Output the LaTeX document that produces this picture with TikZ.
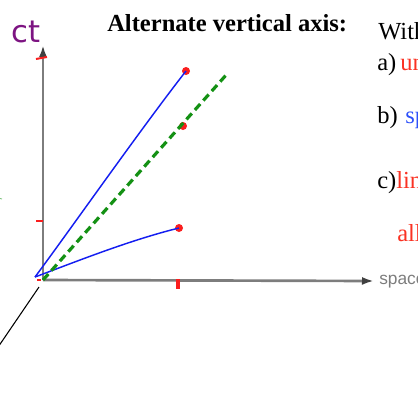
\documentclass[tikz,border=0pt]{standalone}
\usepackage{fontspec}
\setmainfont{Liberation Serif}
\setsansfont{Liberation Sans}
\newfontfamily\handfont{DejaVu Sans}
\usetikzlibrary{arrows.meta}

\definecolor{axisgray}{RGB}{125,125,125}
\definecolor{ctpurple}{RGB}{125,20,130}
\definecolor{eventred}{RGB}{250,30,30}
\definecolor{textred}{RGB}{250,50,35}
\definecolor{textblue}{RGB}{45,80,250}
\definecolor{rayblue}{RGB}{20,30,240}
\definecolor{raygreen}{RGB}{20,145,20}

\tikzset{
	axis/.style={draw=axisgray, line width=2pt, -{Latex[length=9pt,width=6pt,color=black!75]}},
	worldline/.style={draw=rayblue, line width=1.1pt},
	lightray/.style={draw=raygreen, line width=2.4pt, dash pattern=on 6pt off 3.5pt},
	event/.style={circle, fill=eventred, inner sep=0pt, minimum size=6pt},
	tickmark/.style={draw=eventred, line width=1.5pt},
	bodytext/.style={anchor=base west, inner sep=0pt, font=\fontsize{18.4}{22}\selectfont}
}

\begin{document}
\begin{tikzpicture}[x=0.75pt, y=-0.75pt]
	\useasboundingbox (0,0) rectangle (418,394);
	\clip (0,0) rectangle (418,394);

	% axes
	\coordinate (O) at (43,280);
	\coordinate (ctTip) at (43,45);
	\coordinate (xTip) at (374,281);
	\draw[axis] (O) -- (ctTip);
	\draw[axis] (O) -- (xTip);
	\node[anchor=base west, inner sep=0pt, text=axisgray, font=\sffamily\fontsize{13}{15}\selectfont] (spaceLabel) at (379,284) {space};
	\node[anchor=base west, inner sep=0pt, text=ctpurple, font=\handfont\fontsize{23}{26}\selectfont] (ctLabel) at (11,42) {ct};

	% ticks
	\coordinate (tickTopA) at (36,59);
	\coordinate (tickTopB) at (47,57);
	\coordinate (tickMidA) at (36,221);
	\coordinate (tickMidB) at (43,221);
	\coordinate (tickOA) at (37,280);
	\coordinate (tickOB) at (41,280);
	\coordinate (tickXA) at (178,279);
	\coordinate (tickXB) at (178,289);
	\draw[tickmark] (tickTopA) -- (tickTopB);
	\draw[tickmark] (tickMidA) -- (tickMidB);
	\draw[tickmark] (tickOA) -- (tickOB);
	\draw[tickmark, line width=2.6pt] (tickXA) -- (tickXB);

	% events
	\node[event] (eventA) at (186,71) {};
	\node[event] (eventB) at (183,126) {};
	\node[event] (eventC) at (179,228) {};

	% world lines and light ray
	\coordinate (start) at (35,277);
	\coordinate (lightEnd) at (227,74);
	\draw[worldline] (start) .. controls (70,230) and (140,130) .. (eventA.center);
	\draw[worldline] (start) .. controls (75,262) and (130,240) .. (eventC.center);
	\draw[lightray] (O) -- (lightEnd);

	% pointer line
	\coordinate (pointerA) at (39,287);
	\coordinate (pointerB) at (-8,356);
	\draw[black, line width=0.8pt] (pointerA) -- (pointerB);
	\coordinate (markA) at (0,198.5);
	\coordinate (markB) at (2,199);
	\draw[raygreen!60, line width=0.6pt] (markA) -- (markB);

	% texts
	\node[bodytext, font=\bfseries\fontsize{18.4}{22}\selectfont] (title) at (107,31.5) {Alternate vertical axis:};
	\node[bodytext] (with) at (378,39) {With};
	\node[bodytext] (itemA) at (377,70) {a)};
	\node[bodytext, text=textred] (itemAWord) at (400,70) {un};
	\node[bodytext] (itemB) at (377,123) {b)};
	\node[bodytext, text=textblue] (itemBWord) at (405,123) {sp};
	\node[bodytext] (itemC) at (377,188) {c)};
	\node[bodytext, text=textred] (itemCWord) at (396,188) {lin};
	\node[bodytext, text=textred] (itemCNext) at (397,241) {all};
\end{tikzpicture}
\end{document}
